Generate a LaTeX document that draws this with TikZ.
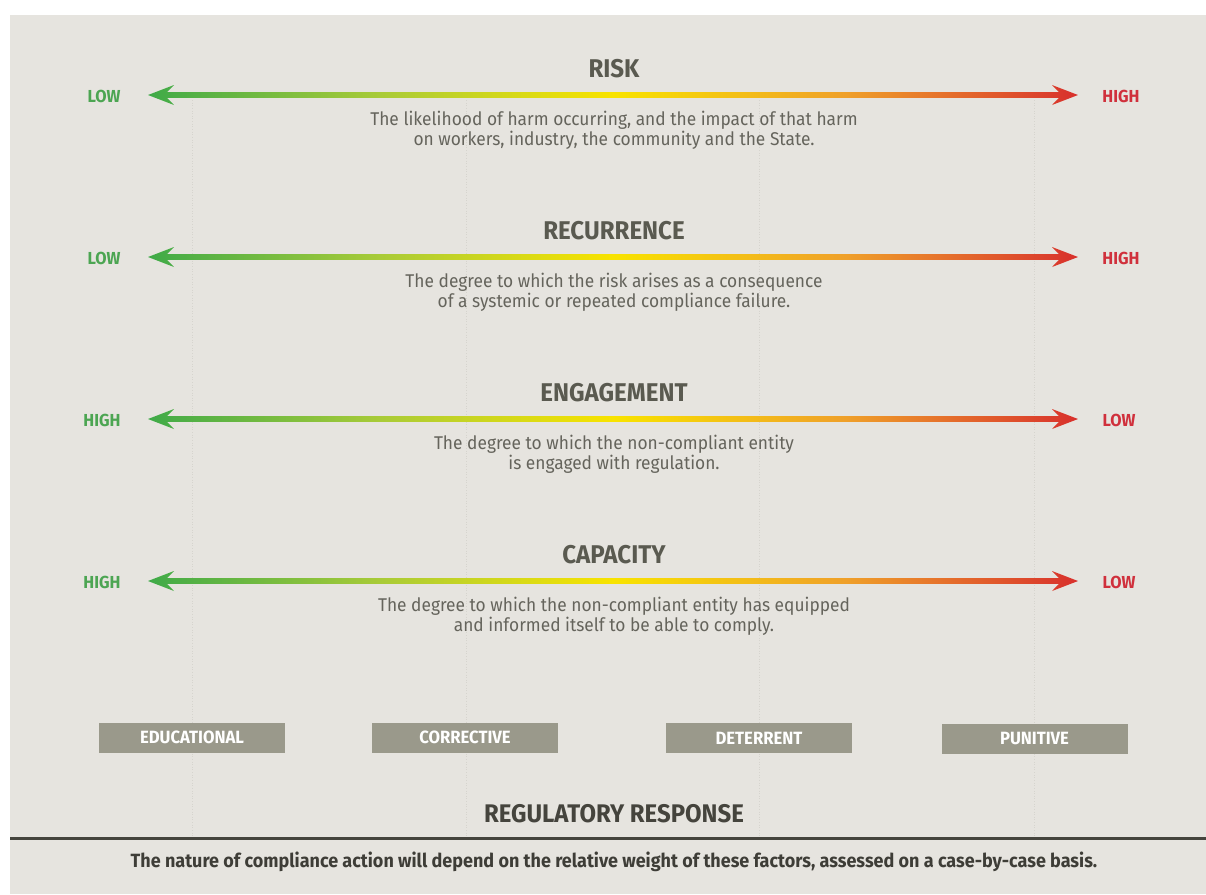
\documentclass[tikz,border=0pt]{standalone}
\usepackage{fontspec}
\setmainfont{Fira Sans}[FakeStretch=0.94]
\usetikzlibrary{calc}
\definecolor{bg}{HTML}{E6E4DF}
\definecolor{titlec}{HTML}{5A5A50}
\definecolor{descc}{HTML}{65645C}
\definecolor{lgreen}{HTML}{4CA552}
\definecolor{lred}{HTML}{D0303C}
\definecolor{boxc}{HTML}{9A998B}
\definecolor{darkc}{HTML}{45443D}
\definecolor{dotc}{HTML}{D6D4CE}
\definecolor{g1}{HTML}{3FAA48}
\definecolor{g2}{HTML}{A9CB38}
\definecolor{g3}{HTML}{F8E300}
\definecolor{g4}{HTML}{EFA02A}
\definecolor{g5}{HTML}{D8302C}
\pgfdeclarehorizontalshading{riskgrad}{100bp}{color(0bp)=(g1); color(25bp)=(g1); color(37.5bp)=(g2); color(50bp)=(g3); color(62.5bp)=(g4); color(75bp)=(g5); color(100bp)=(g5)}
\tikzset{
  title/.style={font=\fontsize{14.6}{16}\selectfont\bfseries, text=titlec, inner sep=0pt},
  desc/.style={font=\fontsize{10.5}{11.4}\selectfont, text=descc, align=center, inner sep=0pt},
  lowhigh/.style={font=\fontsize{9.9}{11}\selectfont\bfseries, inner sep=0pt},
  respbox/.style={fill=boxc, minimum width=186*0.02cm, minimum height=30*0.02cm, inner sep=0pt, text=white, font=\fontsize{10.1}{11}\selectfont\bfseries},
}
\newcommand\gradarrow[1]{%
  \shade[shading=riskgrad] ($(#1-l)$) -- ++(26,-10) -- ++(-7,7.2) -- ($(#1-r)+(-19,-2.8)$) -- ++(-7,-7.2) -- ($(#1-r)$) -- ++(-26,10) -- ++(7,-7.2) -- ($(#1-l)+(19,2.8)$) -- ++(7,7.2) -- cycle;}
\begin{document}
\begin{tikzpicture}[x=0.02cm,y=-0.02cm]
\useasboundingbox (0,0) rectangle (1206,894);
\fill[white] (0,0) rectangle (1206,894);
\fill[bg] (10,15) rectangle (1206,894);
% faint guide lines
\foreach \gx in {192,466,759,1034}
  \draw[dotc, densely dotted, line width=0.5pt] (\gx,100) -- (\gx,836);
% arrows
\foreach \n/\yy in {a/95,b/257,c/419,d/581}{
  \coordinate (\n-l) at (148,\yy);
  \coordinate (\n-r) at (1078,\yy);
}
\gradarrow{a}
\gradarrow{b}
\gradarrow{c}
\gradarrow{d}
% RISK
\node[title] (t1) at (614,69) {RISK};
\node[desc] (d1) at (614,130) {The likelihood of harm occurring, and the impact of that harm\\on workers, industry, the community and the State.};
\node[lowhigh, text=lgreen] (l1) at (104,96) {LOW};
\node[lowhigh, text=lred] (r1) at (1121,96) {HIGH};
% RECURRENCE
\node[title] (t2) at (614,231) {RECURRENCE};
\node[desc] (d2) at (614,292) {The degree to which the risk arises as a consequence\\of a systemic or repeated compliance failure.};
\node[lowhigh, text=lgreen] (l2) at (104,258) {LOW};
\node[lowhigh, text=lred] (r2) at (1121,258) {HIGH};
% ENGAGEMENT
\node[title] (t3) at (614,393) {ENGAGEMENT};
\node[desc] (d3) at (614,454) {The degree to which the non-compliant entity\\is engaged with regulation.};
\node[lowhigh, text=lgreen] (l3) at (102,420) {HIGH};
\node[lowhigh, text=lred] (r3) at (1119,420) {LOW};
% CAPACITY
\node[title] (t4) at (614,555) {CAPACITY};
\node[desc] (d4) at (614,616) {The degree to which the non-compliant entity has equipped\\and informed itself to be able to comply.};
\node[lowhigh, text=lgreen] (l4) at (102,582) {HIGH};
\node[lowhigh, text=lred] (r4) at (1119,582) {LOW};
% response boxes
\node[respbox] (b1) at (192,737.5) {EDUCATIONAL};
\node[respbox] (b2) at (465,737.5) {CORRECTIVE};
\node[respbox] (b3) at (759,738) {DETERRENT};
\node[respbox] (b4) at (1034.5,738.5) {PUNITIVE};
% bottom
\node[font=\fontsize{14.5}{17}\selectfont\bfseries, text=darkc, inner sep=0pt] (rr) at (614,814) {REGULATORY RESPONSE};
\coordinate (hl) at (10,838.5);
\coordinate (hr) at (1206,838.5);
\draw[darkc, line width=1.5pt] (hl) -- (hr);
\node[font=\fontsize{10.9}{12}\selectfont\bfseries, text=darkc!90!black, inner sep=0pt] (note) at (614,862) {The nature of compliance action will depend on the relative weight of these factors, assessed on a case-by-case basis.};
\end{tikzpicture}
\end{document}
